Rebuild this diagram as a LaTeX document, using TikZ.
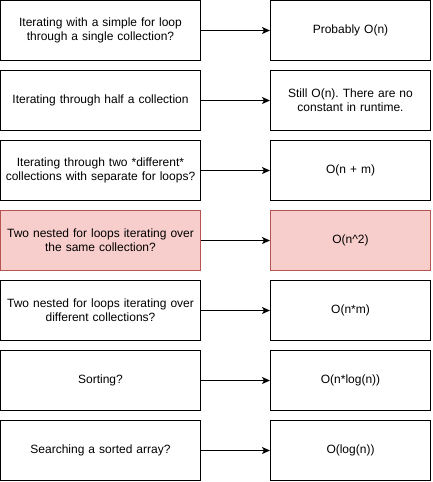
\documentclass[tikz,border=0pt]{standalone}
\usepackage{fontspec}
\setmainfont{Liberation Sans}
\usepackage{xcolor}
\usetikzlibrary{positioning, arrows.meta}
\frenchspacing
\definecolor{redfill}{HTML}{F8CECC}
\definecolor{redline}{HTML}{B85450}
\tikzset{
  qbox/.style={draw, line width=1pt, minimum width=200pt, minimum height=60pt, text width=192pt, align=center, inner sep=0pt},
  abox/.style={draw, line width=1pt, minimum width=160pt, minimum height=60pt, text width=152pt, align=center, inner sep=0pt},
  hot/.style={fill=redfill, draw=redline},
  link/.style={line width=1pt, -{Stealth[length=8pt, width=7pt, inset=2pt]}}
}

\begin{document}
\begin{tikzpicture}[x=1pt, y=-1pt, font=\fontsize{12}{14}\selectfont]
        \useasboundingbox (0,0) rectangle (432,482);
        \node[qbox] (q1) at (100.5,30.5) {Iterating with a simple for loop\\through a single collection?};
        \node[abox] (a1) at (350.5,30.5) {Probably O(n)};
        \node[qbox] (q2) at (100.5,100.5) {Iterating through half a collection};
        \node[abox] (a2) at (350.5,100.5) {Still O(n). There are no\\constant in runtime.};
        \node[qbox] (q3) at (100.5,170.5) {Iterating through two *different*\\collections with separate for loops?};
        \node[abox] (a3) at (350.5,170.5) {O(n + m)};
        \node[qbox,hot] (q4) at (100.5,240.5) {Two nested for loops iterating over\\the same collection?};
        \node[abox,hot] (a4) at (350.5,240.5) {O(n\^{}2)};
        \node[qbox] (q5) at (100.5,310.5) {Two nested for loops iterating over\\different collections?};
        \node[abox] (a5) at (350.5,310.5) {O(n*m)};
        \node[qbox] (q6) at (100.5,380.5) {Sorting?};
        \node[abox] (a6) at (350.5,380.5) {O(n*log(n))};
        \node[qbox] (q7) at (100.5,450.5) {Searching a sorted array?};
        \node[abox] (a7) at (350.5,450.5) {O(log(n))};
        \foreach \i in {1,...,7}
            \draw[link] (q\i) -- (a\i);
    \end{tikzpicture}
\end{document}
